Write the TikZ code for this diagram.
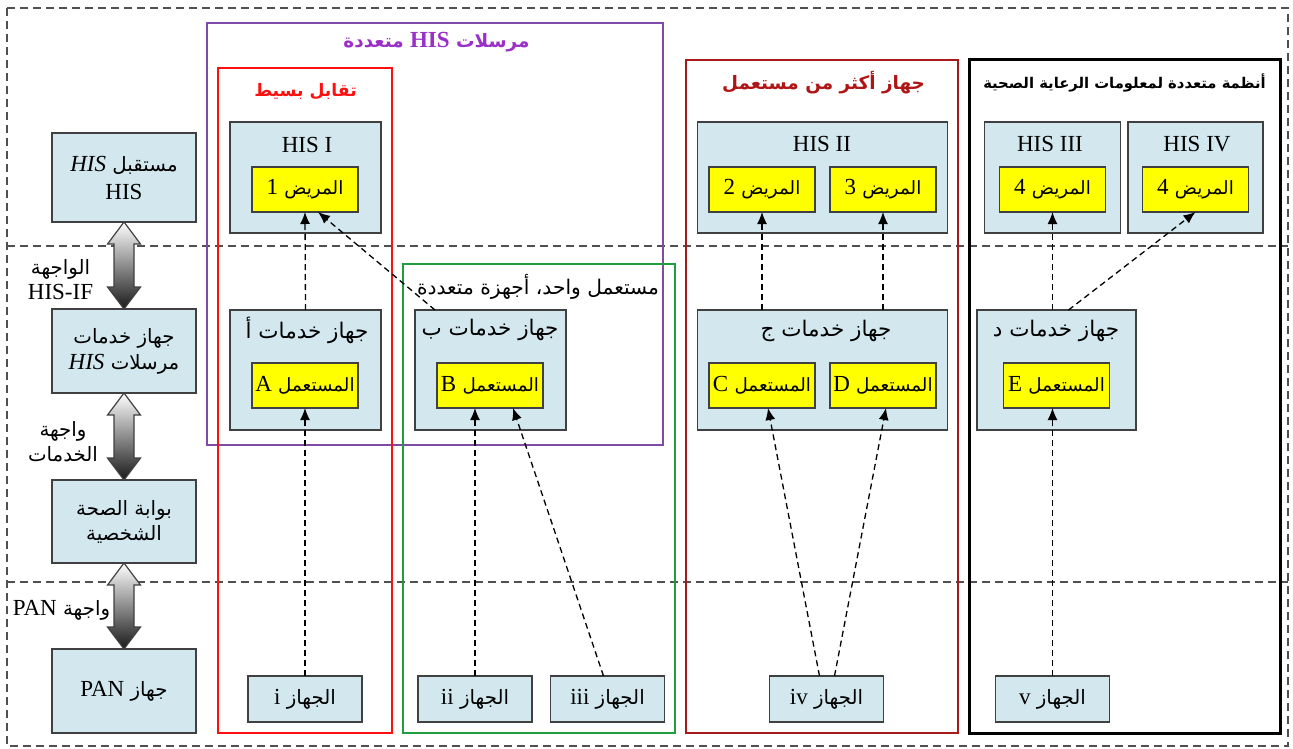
\documentclass[tikz,border=0pt]{standalone}
\usepackage{fontspec}
\setmainfont{Liberation Serif}
\newfontfamily\arabicfont[Script=Arabic,Scale=0.86]{DejaVu Sans}
\TeXXeTstate=1
\usetikzlibrary{arrows.meta,calc}

% Arabic run, set right to left
\newcommand\ar[1]{{\arabicfont\beginR #1\endR}}
% Arabic word followed by a Latin tag, for the small yellow boxes
\newcommand\tag[2]{{\arabicfont\beginR{\fontsize{21.3}{24}\selectfont #1} {\rmfamily #2}\endR}}

\definecolor{boxline}{HTML}{404040}
\definecolor{boxblue}{HTML}{D2E8EE}
\definecolor{patyellow}{HTML}{FFFF00}
\definecolor{framegray}{HTML}{505050}
\definecolor{grppurple}{HTML}{7E4CA8}
\definecolor{titlepurple}{HTML}{9B30C8}
\definecolor{grpred}{HTML}{FF1010}
\definecolor{grpgreen}{HTML}{1E9E3E}
\definecolor{grpdarkred}{HTML}{A81A1A}
\definecolor{titledarkred}{HTML}{B01515}

\begin{document}
\begin{tikzpicture}[x=1pt,y=-1pt,
  every node/.style={inner sep=0pt, outer sep=0pt, font=\fontsize{23}{28}\selectfont},
  dims/.style 2 args={minimum width=#1, minimum height=#2},
  bluebox/.style={draw=boxline, fill=boxblue, line width=1.3pt},
  yellowbox/.style={draw=boxline, fill=patyellow, line width=1.3pt, dims={106}{45}},
  devbox/.style={bluebox, dims={114}{46}},
  srvtitle/.style={font=\fontsize{25}{28}\selectfont},
  txt/.style={align=center},
  link/.style={draw=black, line width=1.3pt, dash pattern=on 6pt off 4pt, -{Latex[length=12pt,width=10pt]}},
  layer/.style={draw=framegray, line width=1.5pt, dash pattern=on 8pt off 5pt},
  grp/.style={line width=2.5pt},
  bigarrow/.style={draw=boxline, line width=1.2pt, top color=white, bottom color=black!90},
]
\useasboundingbox (0,0) rectangle (1293,749);

% outer frame and layer separators
\draw[layer] (7,8) rectangle (1288,746);
\draw[layer] (7,246) -- (1288,246);
\draw[layer] (7,582) -- (1288,582);

% grouping frames
\draw[grp, draw=grppurple, line width=2pt] (207,23) rectangle (663,445);
\draw[grp, draw=grpred] (218,68) rectangle (392,733);
\draw[grp, draw=grpgreen] (403,264) rectangle (675,733);
\draw[grp, draw=grpdarkred] (686,60) rectangle (958,733);
\draw[grp, draw=black, line width=3pt] (969,60) rectangle (1280,733);

% group titles
\node[text=titlepurple, font=\fontsize{21.4}{24}\selectfont] (tpurple) at (436.5,42) {\bfseries\ar{مرسلات {\rmfamily\fontsize{23}{24}\selectfont HIS} متعددة}};
\node[text=grpred, font=\fontsize{20}{22}\selectfont] (tred) at (305.5,92) {\bfseries\ar{تقابل بسيط}};
\node[text=titledarkred, font=\fontsize{21.4}{24}\selectfont] (tdred) at (823.5,83) {\bfseries\ar{جهاز أكثر من مستعمل}};
\node[font=\fontsize{17.2}{20}\selectfont] (tblack) at (1124.5,83) {\bfseries\ar{أنظمة متعددة لمعلومات الرعاية الصحية}};
\node[anchor=east, font=\fontsize{23.5}{26}\selectfont] (tgreen) at (659,287) {\ar{مستعمل واحد، أجهزة متعددة}};

% left column: layers of the stack
\node[bluebox, dims={144}{89}, txt] (recv) at (124,177.5) {\ar{مستقبل {\rmfamily\itshape HIS}}\\HIS};
\node[bluebox, dims={144}{84}, txt, font=\fontsize{23}{26}\selectfont] (msgsrv) at (124,351) {\ar{جهاز خدمات}\\\ar{مرسلات {\rmfamily\itshape HIS}}};
\node[bluebox, dims={144}{83}, txt, font=\fontsize{23}{25}\selectfont] (gateway) at (124,521.5) {\ar{بوابة الصحة}\\\ar{الشخصية}};
\node[bluebox, dims={144}{84}] (pan) at (124,691) {\ar{جهاز {\rmfamily PAN}}};

\node[txt, font=\fontsize{23}{25}\selectfont] (ifhis) at (60.5,280) {\ar{الواجهة}\\HIS-IF};
\node[txt, font=\fontsize{23}{25}\selectfont] (ifsrv) at (63,442) {\ar{واجهة}\\\ar{الخدمات}};
\node (ifpan) at (61.5,610) {\ar{واجهة {\rmfamily PAN}}};

\shadedraw[bigarrow] (recv.south) -- ++(16.5,22) -- ++(-6.5,0) -- ($(msgsrv.north)+(10,-22)$) -- ++(6.5,0) -- (msgsrv.north) -- ++(-16.5,-22) -- ++(6.5,0) -- ($(recv.south)+(-10,22)$) -- ++(-6.5,0) -- cycle;
\shadedraw[bigarrow] (msgsrv.south) -- ++(16.5,22) -- ++(-6.5,0) -- ($(gateway.north)+(10,-22)$) -- ++(6.5,0) -- (gateway.north) -- ++(-16.5,-22) -- ++(6.5,0) -- ($(msgsrv.south)+(-10,22)$) -- ++(-6.5,0) -- cycle;
\shadedraw[bigarrow] (gateway.south) -- ++(16.5,22) -- ++(-6.5,0) -- ($(pan.north)+(10,-22)$) -- ++(6.5,0) -- (pan.north) -- ++(-16.5,-22) -- ++(6.5,0) -- ($(gateway.south)+(-10,22)$) -- ++(-6.5,0) -- cycle;

% simple mapping
\node[bluebox, dims={151}{111}] (his1) at (305.5,177.5) {};
\node (his1t) at (307,145) {HIS I};
\node[yellowbox] (p1) at (305,189.5) {\tag{المريض}{1}};
\node[bluebox, dims={151}{120}] (srvA) at (305.5,370) {};
\node[srvtitle] (srvAt) at (307,330) {\ar{جهاز خدمات أ}};
\node[yellowbox] (uA) at (305,385.5) {\tag{المستعمل}{A}};
\node[devbox] (devi) at (305,699) {\ar{الجهاز {\rmfamily i}}};

% one user, several devices
\node[bluebox, dims={151}{120}] (srvB) at (490.5,370) {};
\node[srvtitle] (srvBt) at (490,330) {\ar{جهاز خدمات ب}};
\node[yellowbox] (uB) at (490,385.5) {\tag{المستعمل}{B}};
\node[devbox] (devii) at (475,699) {\ar{الجهاز {\rmfamily ii}}};
\node[devbox] (deviii) at (607.5,699) {\ar{الجهاز {\rmfamily iii}}};

% device with several users
\node[bluebox, dims={250}{111}] (his2) at (822.5,177.5) {};
\node (his2t) at (822,144) {HIS II};
\node[yellowbox] (p2) at (762,189.5) {\tag{المريض}{2}};
\node[yellowbox] (p3) at (883,189.5) {\tag{المريض}{3}};
\node[bluebox, dims={250}{120}] (srvC) at (822.5,370) {};
\node[srvtitle] (srvCt) at (826,331) {\ar{جهاز خدمات ج}};
\node[yellowbox] (uC) at (762,385.5) {\tag{المستعمل}{C}};
\node[yellowbox] (uD) at (883,385.5) {\tag{المستعمل}{D}};
\node[devbox] (deviv) at (826.5,699) {\ar{الجهاز {\rmfamily iv}}};

% several health information systems
\node[bluebox, dims={136}{111}] (his3) at (1052.5,177.5) {};
\node (his3t) at (1050,144) {HIS III};
\node[yellowbox] (p4a) at (1052.5,189.5) {\tag{المريض}{4}};
\node[bluebox, dims={135}{111}] (his4) at (1195.5,177.5) {};
\node (his4t) at (1197,144) {HIS IV};
\node[yellowbox] (p4b) at (1195.5,189.5) {\tag{المريض}{4}};
\node[bluebox, dims={159}{120}] (srvd) at (1056.5,370) {};
\node[srvtitle] (srvdt) at (1056,331) {\ar{جهاز خدمات د}};
\node[yellowbox] (uE) at (1056.5,385.5) {\tag{المستعمل}{E}};
\node[devbox] (devv) at (1052.5,699) {\ar{الجهاز {\rmfamily v}}};

% data flows
\draw[link] (devi.north) -- (uA.south);
\draw[link] (srvA.north) -- (p1.south);
\draw[link] ([xshift=20pt]srvB.north west) -- ([xshift=13pt]p1.south);
\draw[link] (devii.north) -- (devii.north |- uB.south);
\draw[link] ([xshift=-4pt]deviii.north) -- ([xshift=23pt]uB.south);
\draw[link] (p2.south |- srvC.north) -- (p2.south);
\draw[link] (p3.south |- srvC.north) -- (p3.south);
\draw[link] ([xshift=-7pt]deviv.north) -- ([xshift=6pt]uC.south);
\draw[link] ([xshift=8pt]deviv.north) -- ([xshift=3pt]uD.south);
\draw[link] (devv.north) -- (devv.north |- uE.south);
\draw[link] (p4a.south |- srvd.north) -- (p4a.south);
\draw[link] ([xshift=12pt]srvd.north) -- (p4b.south);
\end{tikzpicture}
\end{document}
